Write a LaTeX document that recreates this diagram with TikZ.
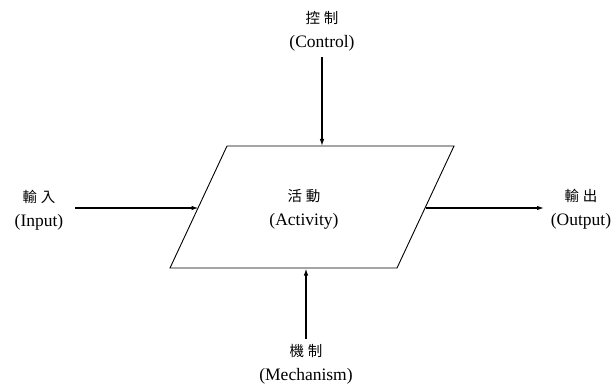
\documentclass[tikz,border=0pt]{standalone}
\usepackage{fontspec}
\setmainfont{Liberation Serif}
\newfontfamily\cjk{Noto Sans CJK TC}
\usetikzlibrary{arrows.meta}
\tikzset{
  lbl/.style={align=center, inner sep=0pt, font=\fontsize{17.5}{24}\selectfont},
  arr/.style={line width=1.2pt, -{Latex[length=7pt,width=4.5pt]}},
  box/.style={line width=0.9pt, line join=miter}
}
\newcommand{\zh}[2]{{\cjk\fontsize{14.5}{24}\selectfont #1\hspace{4pt}#2}}
\begin{document}
\begin{tikzpicture}[x=1pt,y=-1pt]
\useasboundingbox (0,0) rectangle (613,385);
% parallelogram corners
\coordinate (tl) at (227,146);
\coordinate (tr) at (454,146);
\coordinate (br) at (397,268);
\coordinate (bl) at (170,268);
\draw[box] (tl) -- (tr) -- (br) -- (bl) -- cycle;
% edge points
\coordinate (topin) at (322,146);
\coordinate (leftin) at (198.5,208);
\coordinate (rightout) at (425.5,208);
\coordinate (botin) at (306,268.5);
% labels
\node[lbl] (ctl) at (322,31) {\zh{控}{制}\\(Control)};
\node[lbl] (inp) at (39,210) {\zh{輸}{入}\\(Input)};
\node[lbl] (act) at (304,209) {\zh{活}{動}\\(Activity)};
\node[lbl] (out) at (581,209) {\zh{輸}{出}\\(Output)};
\node[lbl] (mech) at (306,364) {\zh{機}{制}\\(Mechanism)};
% free ends
\coordinate (ctlend) at (322,57);
\coordinate (inpend) at (75,208);
\coordinate (outend) at (544,208);
\coordinate (mechend) at (306,339);
% arrows
\draw[arr] (ctlend) -- (topin);
\draw[arr] (inpend) -- (leftin);
\draw[arr] (rightout) -- (outend);
\draw[arr] (mechend) -- (botin);
\end{tikzpicture}
\end{document}
